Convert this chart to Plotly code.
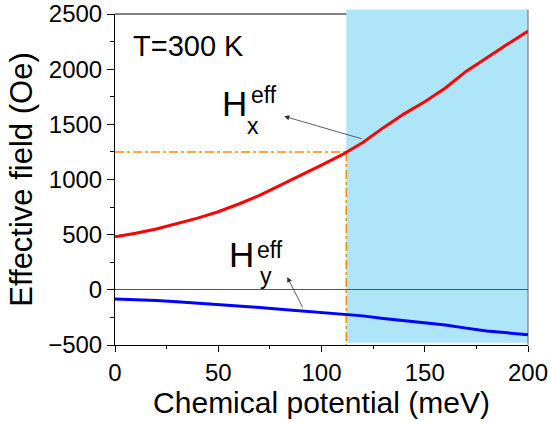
import plotly.graph_objects as go

# ---- data ----
mu = [0, 10, 20, 30, 40, 50, 60, 70, 80, 90, 100, 110, 120, 130, 140, 150, 160, 170, 180, 190, 200]
hx = [482, 512, 552, 598, 650, 708, 778, 856, 945, 1040, 1130, 1225, 1335, 1470, 1595, 1705, 1830, 1980, 2105, 2225, 2345]
hy = [-84, -88, -96, -108, -120, -132, -146, -160, -175, -190, -203, -215, -236, -259, -280, -299, -318, -347, -373, -390, -407]
cross_mu = 112
cross_h = 1250
shade_y = [-480, 2540]

x_range = [0, 200]
y_range = [-500, 2500]
x_ticks = [0, 50, 100, 150, 200]
y_ticks = [-500, 0, 500, 1000, 1500, 2000, 2500]

FONT = "Liberation Sans, Arial, sans-serif"


def px_(v):
    return (v - x_range[0]) / (x_range[1] - x_range[0])


def py_(v):
    return (v - y_range[0]) / (y_range[1] - y_range[0])


fig = go.Figure()

# orange guide lines
fig.add_trace(go.Scatter(x=[x_range[0], cross_mu], y=[cross_h, cross_h], mode="lines",
                         line=dict(color="#FF8C00", width=1.5, dash="dashdot"), showlegend=False))
fig.add_trace(go.Scatter(x=[cross_mu, cross_mu], y=[cross_h, y_range[0]], mode="lines",
                         line=dict(color="#FF8C00", width=1.5, dash="dashdot"), showlegend=False))

fig.add_trace(go.Scatter(x=mu, y=hx, mode="lines", line=dict(color="#FF0000", width=3),
                         showlegend=False))
fig.add_trace(go.Scatter(x=mu, y=hy, mode="lines", line=dict(color="#0000FF", width=3),
                         showlegend=False))

shapes = [
    # top frame line
    dict(type="line", xref="paper", yref="paper", x0=0, x1=1, y0=1, y1=1,
         line=dict(color="black", width=1), layer="below"),
    # shaded region
    dict(type="rect", xref="paper", yref="paper", x0=px_(cross_mu), x1=1,
         y0=py_(shade_y[0]), y1=py_(shade_y[1]),
         fillcolor="rgb(174,229,248)", line=dict(width=0), layer="below"),
    # right frame line
    dict(type="line", xref="paper", yref="paper", x0=1, x1=1, y0=0, y1=py_(shade_y[1]),
         line=dict(color="#666666", width=1), layer="below"),
]

ann = []
def txt(x, y, t, size):
    ann.append(dict(x=x, y=y, xref="x", yref="y", text=t, showarrow=False,
                    font=dict(family=FONT, size=size, color="black"),
                    xanchor="center", yanchor="middle"))

txt(35.6, 2206, "T=300 K", 29)
# H_x^eff
txt(57.7, 1690, "H", 35)
txt(72.2, 1763, "eff", 23)
txt(66.7, 1483, "x", 23)
# H_y^eff
txt(61.1, 316, "H", 35)
txt(75.2, 362, "eff", 23)
txt(73.2, 127, "y", 23)

# arrows
ann.append(dict(x=81.9, y=1573, ax=120.2, ay=1365, xref="x", yref="y", axref="x", ayref="y",
                text="", showarrow=True, arrowhead=2, arrowsize=1.3, arrowwidth=0.8,
                arrowcolor="#333333"))
ann.append(dict(x=83.4, y=117, ax=91.2, ay=-172, xref="x", yref="y", axref="x", ayref="y",
                text="", showarrow=True, arrowhead=2, arrowsize=1.3, arrowwidth=0.8,
                arrowcolor="#333333"))

fig.update_layout(
    width=550, height=422,
    margin=dict(l=115, r=22, t=14, b=77),
    paper_bgcolor="white", plot_bgcolor="rgba(0,0,0,0)",
    shapes=shapes, annotations=ann,
    font=dict(family=FONT, color="black"),
)

fig.update_xaxes(
    range=x_range, tickvals=x_ticks, showgrid=False, zeroline=False, automargin=False,
    showline=True, linecolor="black", linewidth=1,
    ticks="outside", ticklen=6, tickwidth=1, tickcolor="black",
    minor=dict(dtick=25, ticks="outside", ticklen=3, tickwidth=1, tickcolor="black", showgrid=False),
    tickfont=dict(family=FONT, size=24, color="black"),
    title=dict(text="Chemical potential (meV)", font=dict(family=FONT, size=30, color="black"), standoff=4),
)
fig.update_yaxes(
    range=y_range, tickvals=y_ticks, showgrid=False, automargin=False,
    zeroline=True, zerolinecolor="#555555", zerolinewidth=1.2,
    showline=True, linecolor="black", linewidth=1,
    ticks="outside", ticklen=7, tickwidth=1, tickcolor="black",
    minor=dict(dtick=250, ticks="outside", ticklen=4, tickwidth=1, tickcolor="black", showgrid=False),
    tickfont=dict(family=FONT, size=24, color="black"),
    title=dict(text="Effective field (Oe)", font=dict(family=FONT, size=31, color="black"), standoff=6),
)

fig.write_html("out.html")
